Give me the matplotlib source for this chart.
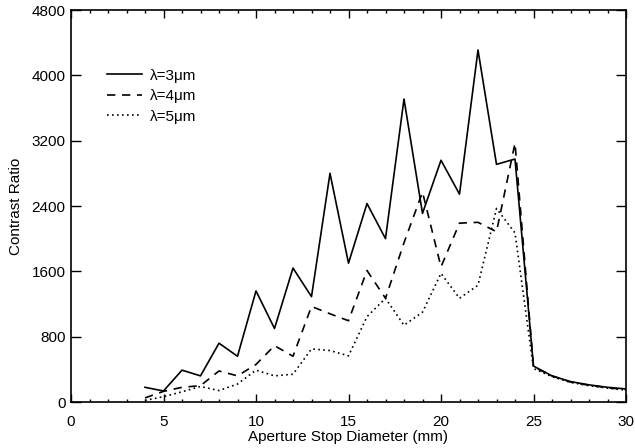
import numpy as np
import matplotlib
matplotlib.use('Agg')
import matplotlib.pyplot as plt
from matplotlib.ticker import MultipleLocator

# Data
diameter = [4, 5, 6, 7, 8, 9, 10, 11, 12, 13, 14, 15, 16, 17, 18, 19, 20,
            21, 22, 23, 24, 25, 26, 27, 28, 29, 30]
ratio_3um = [180, 135, 390, 320, 720, 560, 1360, 900, 1640, 1290, 2800, 1700,
             2430, 2000, 3710, 2310, 2960, 2545, 4310, 2910, 2975,
             440, 320, 250, 210, 180, 160]
ratio_4um = [50, 130, 180, 200, 380, 320, 460, 690, 560, 1170, 1080, 995,
             1610, 1270, 1950, 2570, 1655, 2190, 2200, 2085, 3170,
             430, 320, 245, 205, 175, 150]
ratio_5um = [20, 65, 125, 190, 140, 220, 390, 320, 340, 650, 630, 565,
             1045, 1270, 940, 1100, 1575, 1270, 1430, 2370, 2070,
             410, 310, 240, 200, 170, 145]
labels = ['λ=3μm', 'λ=4μm', 'λ=5μm']

plt.rcParams['font.family'] = ['Liberation Sans', 'DejaVu Sans']

fig = plt.figure(figsize=(6.35, 4.48), dpi=100)
ax = fig.add_axes([71/635, 1-402/448, (626-71)/635, (402-10)/448])

ax.plot(diameter, ratio_3um, color='black', lw=1.2, ls='-', label=labels[0])
ax.plot(diameter, ratio_4um, color='black', lw=1.2, ls=(0, (5, 4)), label=labels[1])
ax.plot(diameter, ratio_5um, color='black', lw=1.2, ls=(0, (1, 2)), label=labels[2])

ax.set_xlim(0, 30)
ax.set_ylim(0, 4800)
ax.xaxis.set_major_locator(MultipleLocator(5))
ax.xaxis.set_minor_locator(MultipleLocator(1))
ax.yaxis.set_major_locator(MultipleLocator(800))
ax.tick_params(which='both', direction='in', top=True, right=True, labelsize=11, width=1)
ax.tick_params(axis='x', which='major', length=5.5, pad=9)
ax.tick_params(axis='x', which='minor', length=2.5)
ax.tick_params(axis='y', which='major', length=7.5, pad=4)
for s in ax.spines.values():
    s.set_linewidth(1.2)

ax.set_xlabel('Aperture Stop Diameter (mm)', fontsize=11, labelpad=1)
ax.set_ylabel('Contrast Ratio', fontsize=11, labelpad=6)

ax.legend(loc='upper left', bbox_to_anchor=(0.065, 0.85), frameon=False,
          borderpad=0, borderaxespad=0, fontsize=11, handlelength=2.3,
          handletextpad=0.5, labelspacing=0.42)

fig.savefig('out.png', dpi=100)
